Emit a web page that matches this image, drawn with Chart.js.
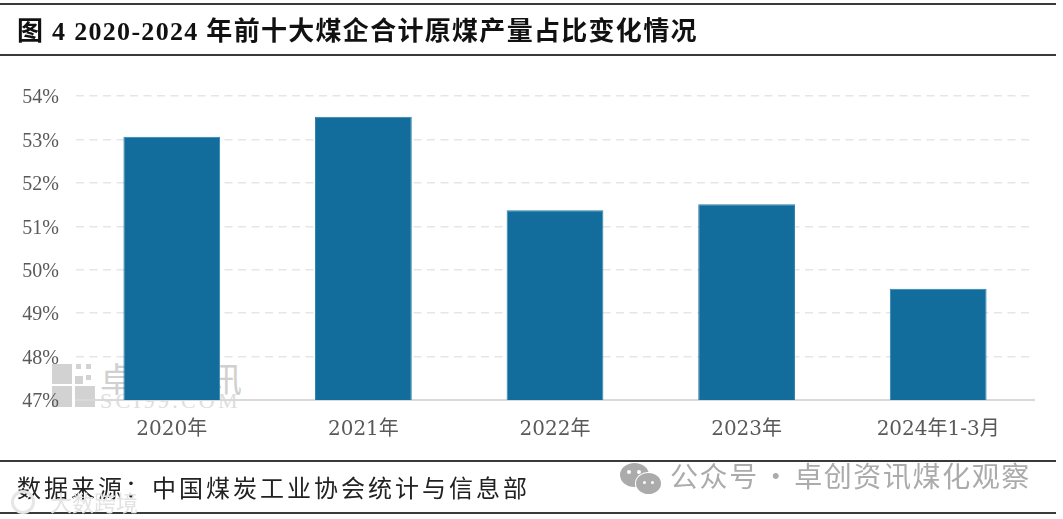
<!DOCTYPE html>
<html lang="zh">
<head>
<meta charset="utf-8">
<title>图4</title>
<script src="https://cdn.jsdelivr.net/npm/chart.js@4"></script>
<style>
    html, body { margin: 0; padding: 0; background: #fff; width: 1063px; height: 519px; overflow: hidden; }
    body { position: relative; }
    #chart { position: absolute; left: 0; top: 0; z-index: 2; }
    .rule { position: absolute; left: 0; width: 1056px; background: #3a3a3a; z-index: 3; }
    .txt { position: absolute; white-space: nowrap; line-height: 1; font-family: "Liberation Serif", "Noto Sans CJK SC", serif; }
    #title { left: 17px; top: 19px; font-size: 26px; font-weight: 700; color: #111; letter-spacing: 1.3px; z-index: 3; }
    #source { left: 17px; top: 475px; font-size: 24px; color: #222; letter-spacing: 3px; z-index: 3; font-family: "Noto Sans CJK SC", sans-serif; }
    #mark1 { left: 100px; top: 361px; font-size: 34px; letter-spacing: 2px; color: #d0d0d0; z-index: 1; font-family: "Noto Sans CJK SC", sans-serif; }
    #mark2 { left: 100px; top: 390px; font-size: 22px; letter-spacing: 3.2px; color: #dedede; z-index: 1; }
    #wechat { left: 670px; top: 461px; font-size: 28px; color: #ababab; letter-spacing: 1.6px; word-spacing: -5px; z-index: 4; font-family: "Noto Sans CJK SC", sans-serif; }
    #mark3 { left: 50px; top: 490px; font-size: 22px; color: #e3e3e3; z-index: 4; font-family: "Noto Sans CJK SC", sans-serif; }
    .block { position: absolute; background: #d2d2d2; z-index: 1; }
    .bub { position: absolute; border-radius: 50%; background: #ababab; z-index: 4; }
</style>
</head>
<body>
<div class="rule" style="top:3px;height:2px"></div>
<div class="rule" style="top:54px;height:2px"></div>
<div class="rule" style="top:460px;height:2px"></div>
<div class="rule" style="top:512px;height:2px"></div>
<div class="txt" id="title">图 4 2020-2024 年前十大煤企合计原煤产量占比变化情况</div>
<div class="txt" id="source">数据来源：中国煤炭工业协会统计与信息部</div>

<div class="block" style="left:52px;top:364px;width:20px;height:20px"></div>
<div class="block" style="left:52px;top:386px;width:20px;height:21px"></div>
<div class="block" style="left:75px;top:386px;width:20px;height:21px"></div>
<div class="block" style="left:75px;top:376px;width:8px;height:8px"></div>
<div class="block" style="left:86px;top:364px;width:5px;height:5px"></div>
<div class="block" style="left:76px;top:364px;width:5px;height:5px"></div>
<div class="block" style="left:86px;top:375px;width:5px;height:5px"></div>
<div class="txt" id="mark1">卓创资讯</div>
<div class="txt" id="mark2">SCI99.COM</div>

<div class="bub" style="left:620px;top:463px;width:29px;height:24px"></div>
<div class="bub" style="left:636px;top:473px;width:25px;height:21px;box-shadow:0 0 0 1px #fff"></div>
<div class="bub" style="left:627px;top:470px;width:4px;height:4px;background:#fff"></div>
<div class="bub" style="left:637px;top:470px;width:4px;height:4px;background:#fff"></div>
<div class="bub" style="left:643px;top:481px;width:3px;height:3px;background:#fff"></div>
<div class="bub" style="left:651px;top:481px;width:3px;height:3px;background:#fff"></div>
<div class="txt" id="wechat">公众号 · 卓创资讯煤化观察</div>
<div class="bub" style="left:11px;top:490px;width:18px;height:18px;background:none;border:3px solid #e6e6e6"></div>
<div class="txt" id="mark3">大数跨境</div>

<canvas id="chart" width="1063" height="519"></canvas>
<script>
// values
const categories = ['2020年', '2021年', '2022年', '2023年', '2024年1-3月'];
const shareValues = [53.06, 53.52, 51.37, 51.51, 49.56];
const yMin = 47;
const yMax = 54;

// y tick labels sit a little under their gridlines in the original
const nudgeYLabels = {
    id: 'nudgeYLabels',
    beforeDraw(chart) {
        chart.scales.y.getLabelItems().forEach(item => { item.options.translation[1] += 2; });
    }
};

new Chart(document.getElementById('chart'), {
    type: 'bar',
    data: {
        labels: categories,
        datasets: [{
            data: shareValues,
            backgroundColor: '#126c9c',
            borderColor: '#2a80ab',
            borderWidth: 1,
            barPercentage: 1,
            categoryPercentage: 0.505
        }]
    },
    plugins: [nudgeYLabels],
    options: {
        responsive: false,
        animation: false,
        layout: { padding: { top: 96, right: 29, left: 0, bottom: 0 } },
        plugins: { legend: { display: false }, tooltip: { enabled: false } },
        scales: {
            x: {
                afterFit: scale => { scale.height = 119; },
                grid: { display: false },
                border: { color: '#d9d9d9', width: 2 },
                ticks: {
                    color: '#595959',
                    padding: 10,
                    maxRotation: 0,
                    font: { family: '"DejaVu Serif", "Noto Sans CJK SC"', size: 20 }
                }
            },
            y: {
                min: yMin,
                max: yMax,
                afterFit: scale => { scale.width = 76; },
                border: { display: false, dash: [8, 5.5] },
                grid: { color: '#e6e6e6', lineWidth: 1.5, drawTicks: false },
                ticks: {
                    stepSize: 1,
                    color: '#595959',
                    padding: 17,
                    font: { family: '"Liberation Serif"', size: 20 },
                    callback: value => value + '%'
                }
            }
        }
    }
});
</script>
</body>
</html>
